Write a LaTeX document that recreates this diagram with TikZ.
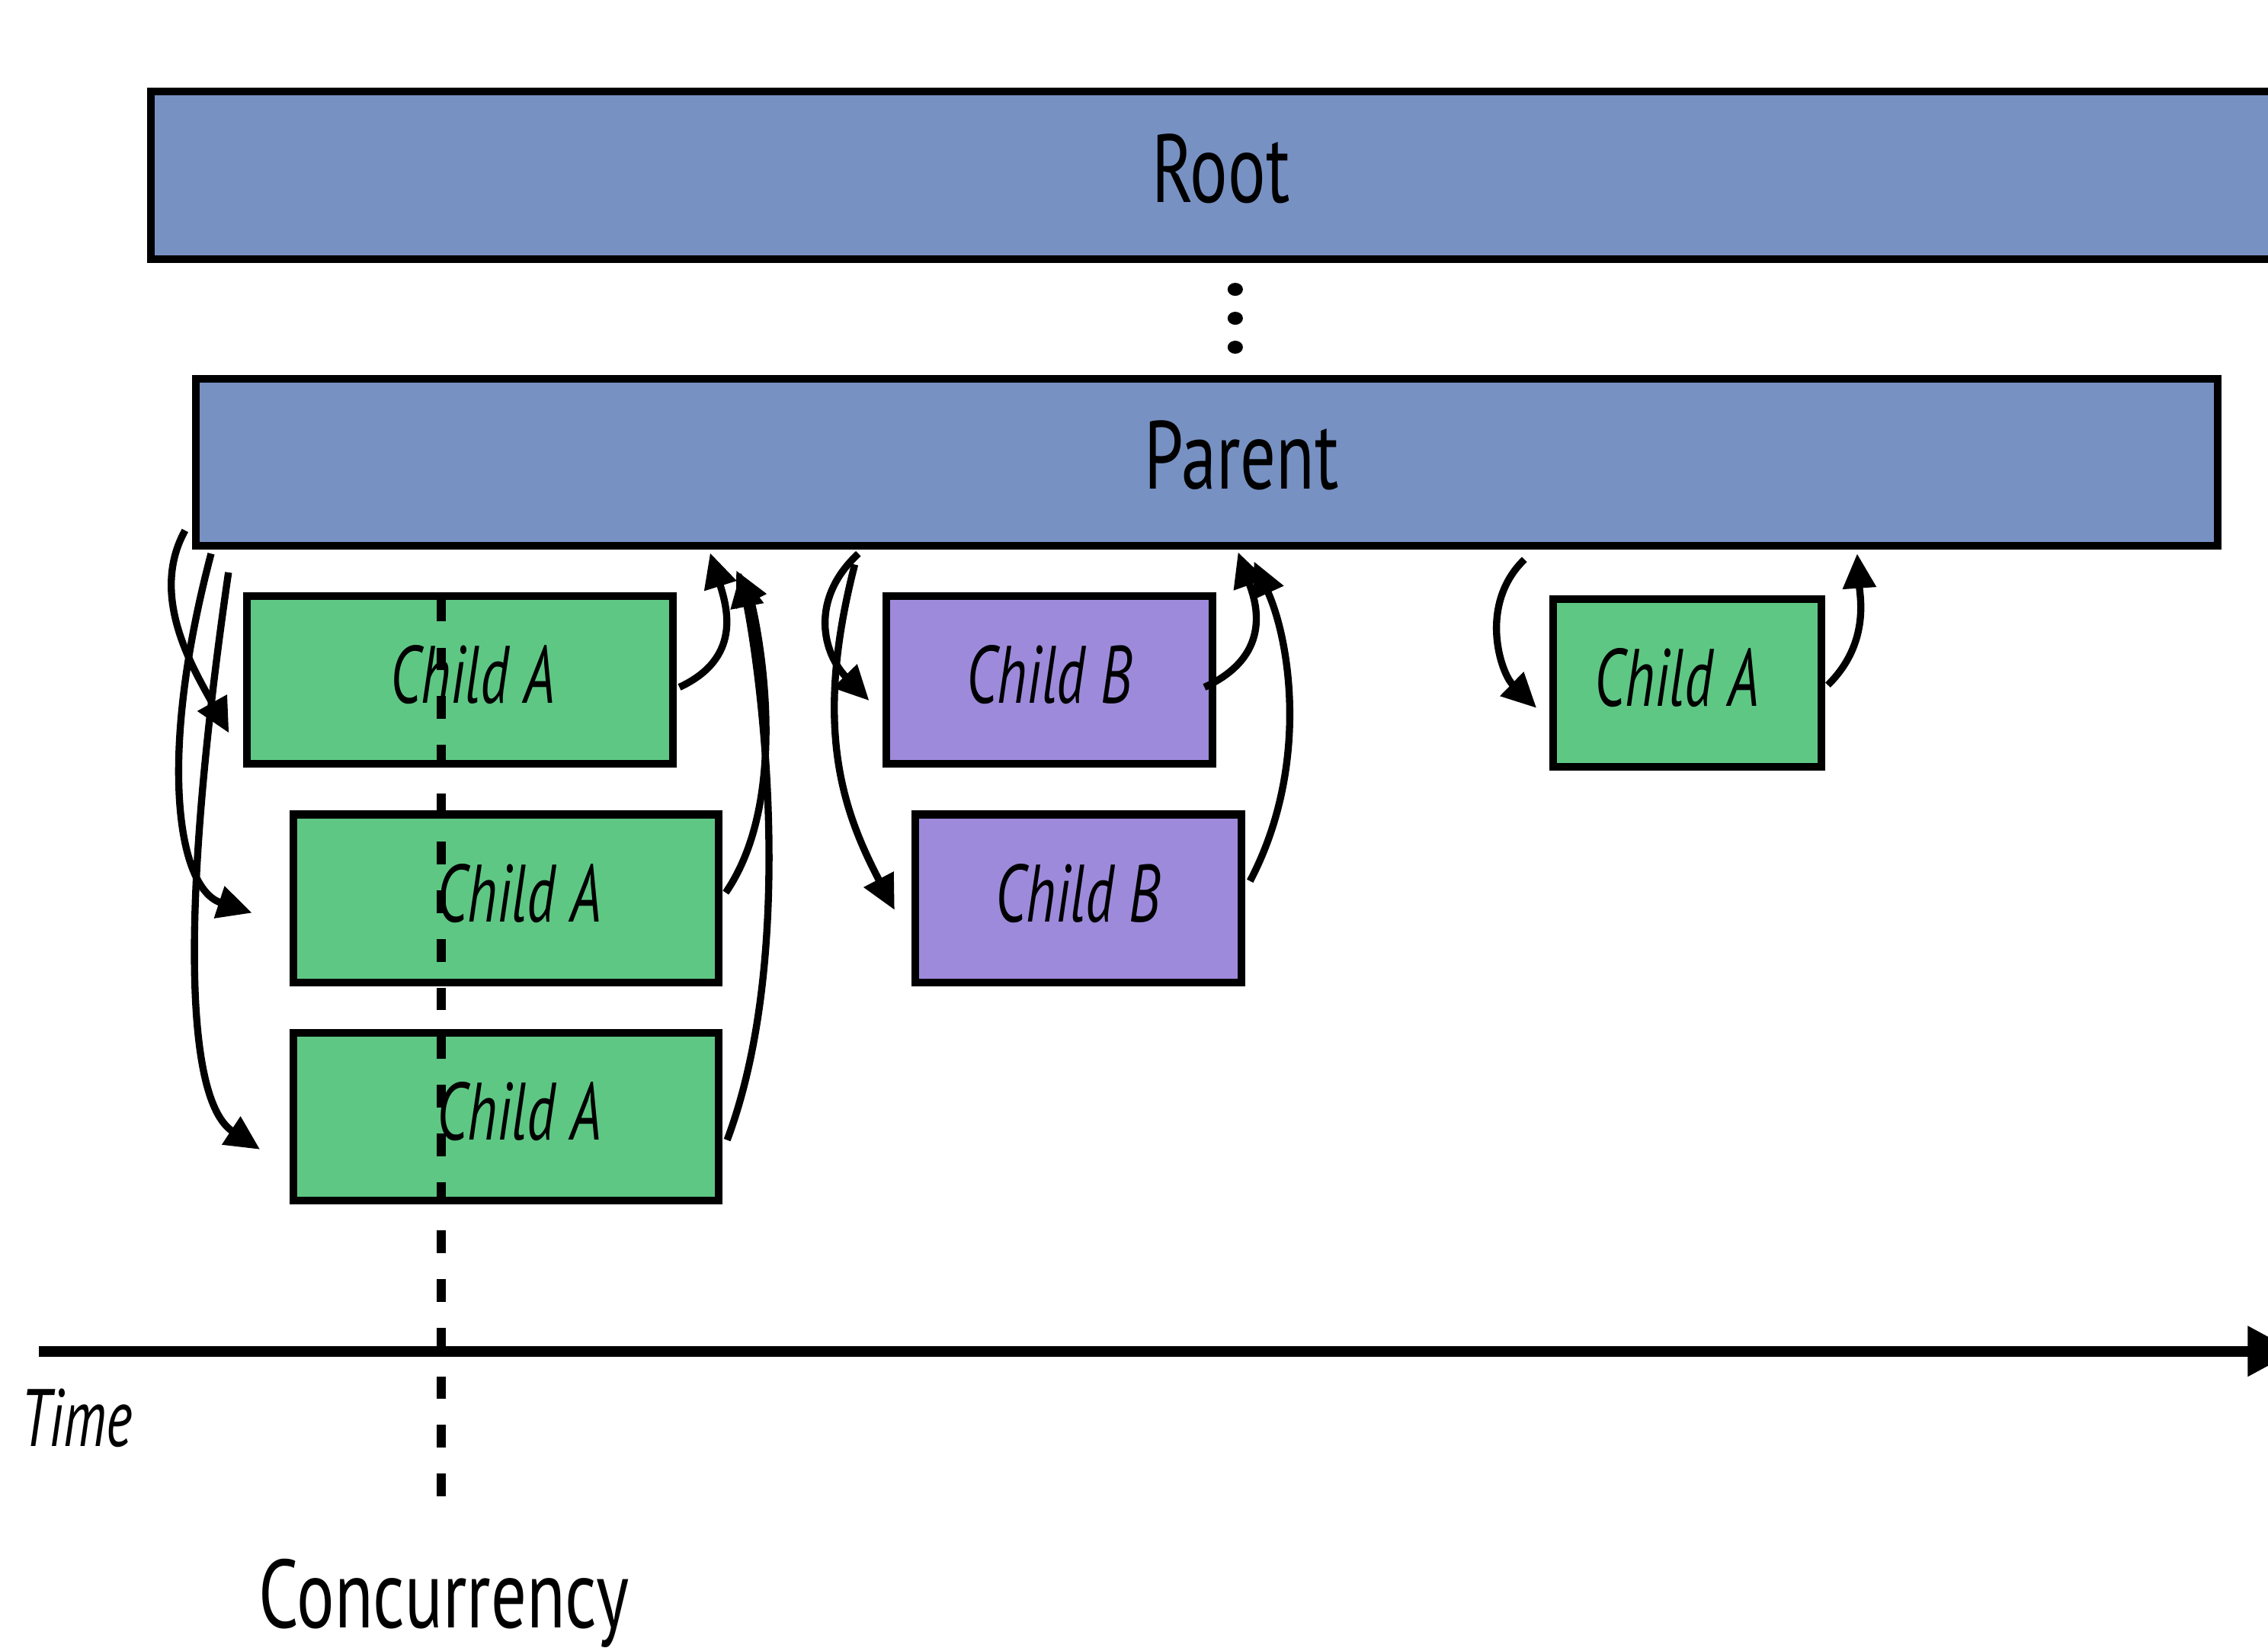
\documentclass[tikz,border=0pt]{standalone}
\usepackage{fontspec}
\setmainfont{PT Sans}[FakeStretch=0.73,ItalicFeatures={FakeStretch=0.69}]
\usetikzlibrary{arrows.meta}
\definecolor{barblue}{HTML}{7891C3}
\definecolor{childgreen}{HTML}{5EC784}
\definecolor{childpurple}{HTML}{9D8ADB}

\begin{document}
\begin{tikzpicture}[x=0.01cm,y=-0.01cm]
\tikzstyle{every node}+=[inner sep=0pt]
\tikzstyle{barbox}=[draw=black,line width=1.5pt,fill=barblue,minimum height=1.16cm,text depth=0.1cm,font=\fontsize{19}{22}\selectfont]
\tikzstyle{childbox}=[draw=black,line width=1.5pt,minimum height=1.16cm,text depth=0.08cm,font=\itshape\fontsize{16}{19}\selectfont]
\tikzstyle{calltail}=[black,line width=1.4pt,-{Triangle[length=6.8pt,width=6.3pt]}]
\clip (0,0) rectangle (1568,1139);
\node [barbox,minimum width=14.78cm] (root) at (844,121) {Root};
\node [barbox,minimum width=13.97cm,minimum height=1.15cm] (parent) at (834.5,319.5) {\hspace*{0.48cm}Parent};
\foreach \y in {200,220,240}
  \fill [black] (854,\y) ellipse [x radius=0.053cm,y radius=0.045cm];
\node [childbox,fill=childgreen,minimum width=2.94cm] (a1) at (318,470) {\hspace*{0.18cm}Child A};
\node [childbox,fill=childgreen,minimum width=2.94cm] (a2) at (350,621) {\hspace*{0.18cm}Child A};
\node [childbox,fill=childgreen,minimum width=2.94cm] (a3) at (350,772) {\hspace*{0.18cm}Child A};
\node [childbox,fill=childpurple,minimum width=2.25cm] (b1) at (725.5,470) {Child B};
\node [childbox,fill=childpurple,minimum width=2.25cm] (b2) at (745.5,621) {Child B};
\node [childbox,fill=childgreen,minimum width=1.85cm] (a4) at (1166.5,472) {\hspace*{-0.14cm}Child A};
\draw [calltail] ([shift={(-5,-13)}]parent.south west) .. controls +(-25,45) and +(-25,-45) .. ([shift={(-10,-24)}]a1.south west);
\draw [calltail] ([shift={(13,3)}]parent.south west) .. controls +(-37,140) and +(-52,-17) .. ([shift={(-26,10)}]a2.west);
\draw [calltail] ([shift={(25,16)}]parent.south west) .. controls +(-33,227) and +(-52.5,-34.5) .. ([shift={(-20.5,22.5)}]a3.west);
\draw [calltail] ([shift={(2,5)}]a1.east) .. controls +(43,-20) and +(12,38.5) .. ([shift={(358,2.5)}]parent.south west);
\draw [calltail] ([shift={(2,-4)}]a2.east) .. controls +(49.4,-72) and +(11,22.4) .. ([shift={(376,14.6)}]parent.south west);
\draw [calltail] ([shift={(3,16)}]a3.east) .. controls +(48,-128) and +(15,77) .. ([shift={(379,16)}]parent.south west);
\draw [calltail] ([shift={(460.5,3)}]parent.south west) .. controls +(-34.5,32) and +(-31.6,-32.3) .. ([shift={(-9.4,14.3)}]b1.west);
\draw [calltail] ([shift={(458,10.5)}]parent.south west) .. controls +(-29,112.5) and +(-36,-69) .. ([shift={(-11.8,8)}]b2.west);
\draw [calltail] ([shift={(-8,5)}]b1.east) .. controls +(50,-23) and +(11,31) .. ([shift={(723,2)}]parent.south west);
\draw [calltail] ([shift={(3.5,-12)}]b2.east) .. controls +(41.5,-79) and +(25,55) .. ([shift={(734,8.4)}]parent.south west);
\draw [calltail] ([shift={(921,7)}]parent.south west) .. controls +(-32,31) and +(-25,-24.4) .. ([shift={(-9,17.4)}]a4.west);
\draw [calltail] ([shift={(2,1.5)}]a4.east) .. controls +(29,-28.5) and +(2,30) .. ([shift={(1151,3)}]parent.south west);
\coordinate (tstart) at (27,934);
\coordinate (tend) at (1587,934);
\draw [black,line width=2.1pt,-{Triangle[length=9.4pt,width=9.4pt]}] (tstart) -- (tend);
\coordinate (cctop) at (305,414);
\coordinate (ccbot) at (305,1037);
\draw [black,line width=1.9pt,dash pattern=on 4.45pt off 5.1pt] (cctop) -- (ccbot);
\node [anchor=base,font=\itshape\fontsize{16}{19}\selectfont] (timelbl) at (53,1000) {Time};
\node [anchor=base,font=\fontsize{19}{22}\selectfont] (conc) at (307,1125) {Concurrency};
\end{tikzpicture}
\end{document}
